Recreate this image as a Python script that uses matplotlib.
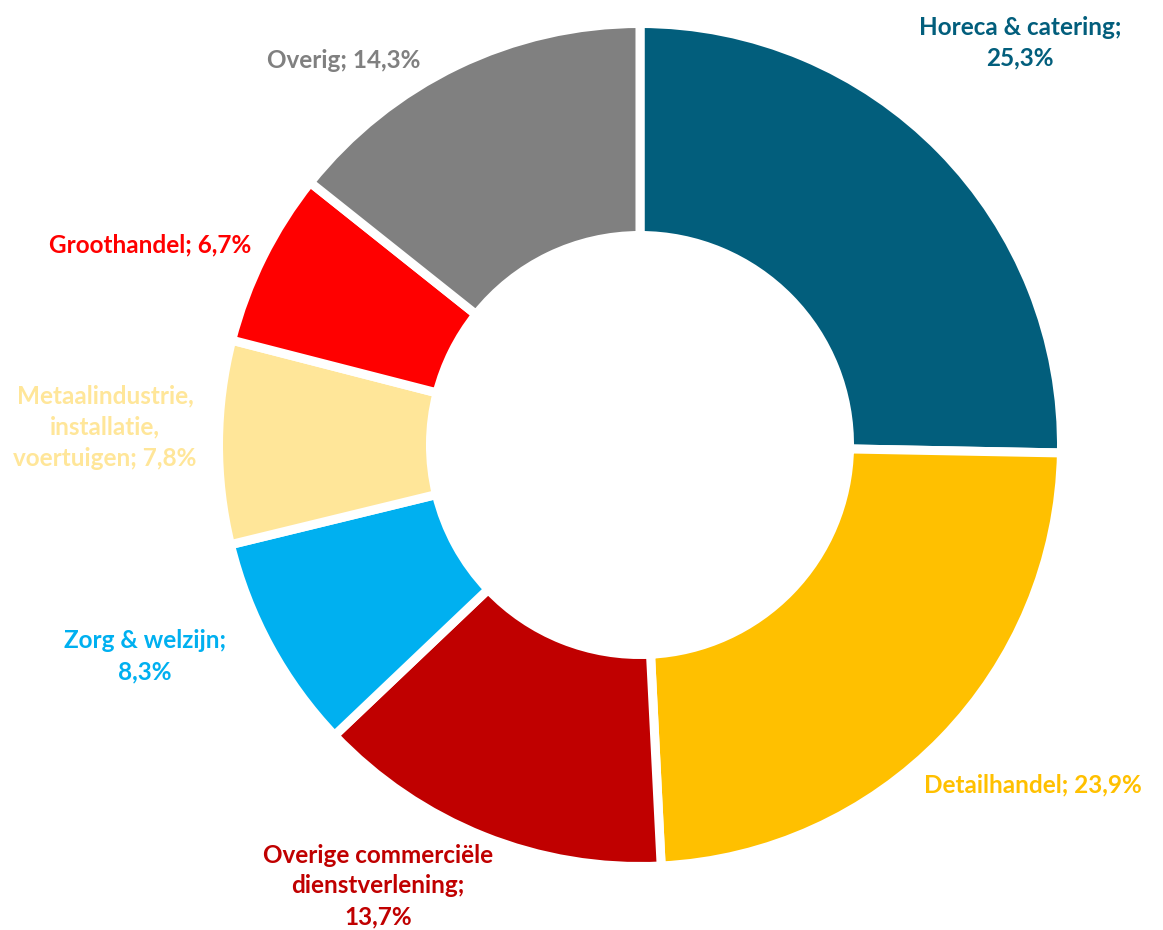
import matplotlib.pyplot as plt

# sector shares (%), clockwise from 12 o'clock
sectors = [
    "Horeca & catering",
    "Detailhandel",
    "Overige commerciële\ndienstverlening",
    "Zorg & welzijn",
    "Metaalindustrie,\ninstallatie,\nvoertuigen",
    "Groothandel",
    "Overig",
]
shares = [25.3, 23.9, 13.7, 8.3, 7.8, 6.7, 14.3]
colors = ["#025E7C", "#FFC000", "#C00000", "#00B0F0", "#FFE699", "#FF0000", "#808080"]

# label text as shown (line breaks differ from the sector names)
label_text = [
    "Horeca & catering;\n25,3%",
    "Detailhandel; 23,9%",
    "Overige commerciële\ndienstverlening;\n13,7%",
    "Zorg & welzijn;\n8,3%",
    "Metaalindustrie,\ninstallatie,\nvoertuigen; 7,8%",
    "Groothandel; 6,7%",
    "Overig; 14,3%",
]
# label centres in units of the outer radius
label_xy = [
    (0.909, 0.962),
    (0.940, -0.813),
    (-0.627, -1.055),
    (-1.184, -0.505),
    (-1.280, 0.043),
    (-1.172, 0.478),
    (-0.708, 0.921),
]

R_OUT = 421.5 / 418
WIDTH = (421.5 - 209.5) / 418

fig = plt.figure(figsize=(11.63, 9.3), dpi=100)
ax = fig.add_axes([0, 0, 1, 1])

wedges, _ = ax.pie(
    shares,
    colors=colors,
    startangle=90,
    counterclock=False,
    radius=R_OUT,
    wedgeprops=dict(width=WIDTH, edgecolor="white", linewidth=6.5),
)

for txt, (x, y), c in zip(label_text, label_xy, colors):
    ax.text(x, y, txt, ha="center", va="center", color=c,
            fontsize=17.5, fontweight="bold", family="Lato",
            linespacing=1.42, multialignment="center")

ax.set_xlim(-640 / 418, (1163 - 640) / 418)
ax.set_ylim(-485 / 418, (930 - 485) / 418)
ax.set_aspect("auto")
ax.axis("off")

fig.savefig("out.png", dpi=100, facecolor="white")
